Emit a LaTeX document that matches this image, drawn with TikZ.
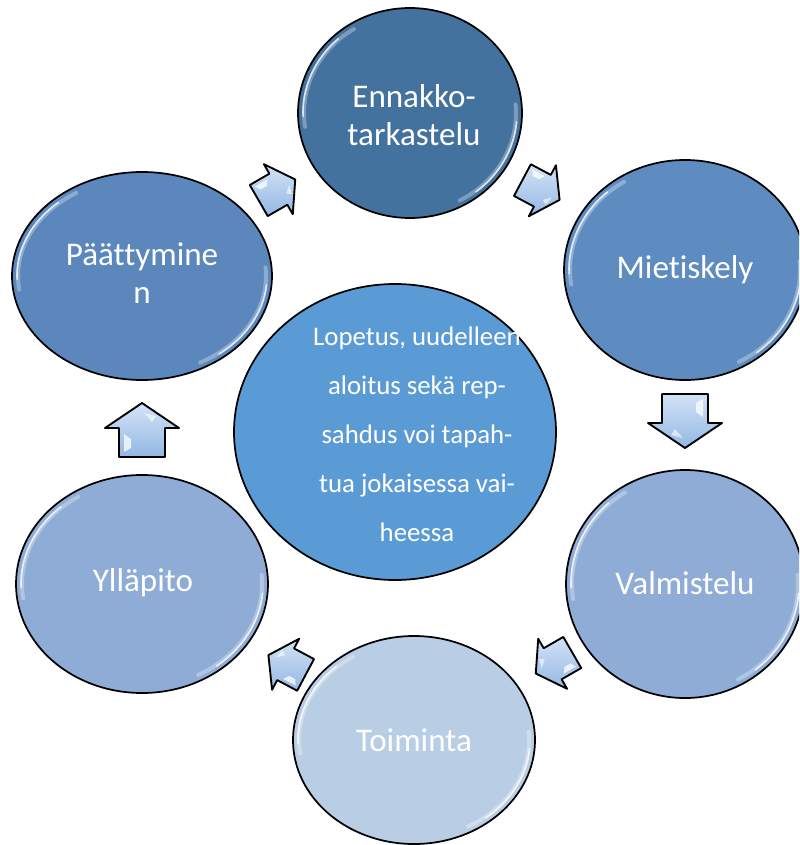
\documentclass[tikz,border=0pt]{standalone}
\usepackage{fontspec}
\setmainfont{Carlito}[Ligatures={NoCommon},RawFeature={-liga;-dlig}]
\usetikzlibrary{shapes.geometric,calc}
\definecolor{cE}{HTML}{44729F}
\definecolor{cM}{HTML}{5E8BC0}
\definecolor{cP}{HTML}{5B87BD}
\definecolor{cV}{HTML}{8FACD6}
\definecolor{cY}{HTML}{8FACD6}
\definecolor{cT}{HTML}{B9CDE5}
\definecolor{cC}{HTML}{5B9BD5}
\definecolor{arrTop}{HTML}{D3E3F6}
\definecolor{arrBot}{HTML}{93B7E3}
\newcommand\glassrim[3]{%
  \draw[white,line width=3pt,opacity=0.3,line cap=round] (#1.center) ++(172:#2-6 and #3-6) arc[start angle=172,end angle=238,x radius=#2-6,y radius=#3-6];
  \draw[white,line width=1.2pt,opacity=0.75,line cap=round] (#1.center) ++(178:#2-5 and #3-5) arc[start angle=178,end angle=228,x radius=#2-5,y radius=#3-5];
  \draw[white,line width=3pt,opacity=0.3,line cap=round] (#1.center) ++(-5:#2-6 and #3-6) arc[start angle=-5,end angle=62,x radius=#2-6,y radius=#3-6];
  \draw[white,line width=1.2pt,opacity=0.75,line cap=round] (#1.center) ++(5:#2-5 and #3-5) arc[start angle=5,end angle=52,x radius=#2-5,y radius=#3-5];
}
\tikzset{
  stage/.style={ellipse,draw=black,line width=1.3pt,inner sep=0pt,outer sep=0pt},
  stagetext/.style={text=white,align=center,font=\fontsize{24.8}{29}\selectfont},
  arrline/.style={draw=black,line width=1.4pt,line join=round,top color=arrTop,bottom color=arrBot},
  blockarrow/.pic={
    \path[arrline] (-27,-23) -- (2,-23) -- (2,-37) -- (27,0) -- (2,37) -- (2,23) -- (-27,23) -- cycle;
    \fill[white,opacity=0.75] (-22,-18) -- (-4,-18) -- (-9,-11) -- (-18,-11) -- cycle;
    \fill[white,opacity=0.6] (8,10) -- (17,2) -- (14,14) -- cycle;
  }
}
\begin{document}
\begin{tikzpicture}[x=0.75pt,y=-0.75pt]
\useasboundingbox (0,0) rectangle (799,845);
\clip (0,0) rectangle (799,845);
% outer stages
\node[stage,fill=cE,minimum width=168pt,minimum height=157.5pt] (E) at (410,113) {};
\node[stage,fill=cM,minimum width=181.5pt,minimum height=165pt] (M) at (685,270) {};
\node[stage,fill=cV,minimum width=178.5pt,minimum height=171pt] (V) at (685,584) {};
\node[stage,fill=cT,minimum width=181.5pt,minimum height=156pt] (T) at (414,740) {};
\node[stage,fill=cY,minimum width=189pt,minimum height=163.5pt] (Y) at (142,584) {};
\node[stage,fill=cP,minimum width=195pt,minimum height=156pt] (P) at (142,276) {};
\glassrim{E}{112}{105}
\glassrim{M}{121}{110}
\glassrim{V}{119}{114}
\glassrim{T}{121}{104}
\glassrim{Y}{126}{109}
\glassrim{P}{130}{104}
% texts
\node[stagetext] (Et) at (414,115) {Ennakko-\\tarkastelu};
\node[stagetext] (Mt) at (685,270) {Mietiskely};
\node[stagetext] (Vt) at (685,583) {Valmistelu};
\node[stagetext] (Tt) at (414,740) {Toiminta};
\node[stagetext] (Yt) at (143,583) {Ylläpito};
\node[stagetext] (Pt) at (142,273) {Päättymine\\n};
% center
\node[stage,fill=cC,minimum width=241.5pt,minimum height=222pt] (C) at (395,432) {};
\node[text=white,align=center,font=\fontsize{20.1}{36.75}\selectfont] (Ct) at (417,434)
  {Lopetus, uudelleen\\aloitus sekä rep-\\sahdus voi tapah-\\tua jokaisessa vai-\\heessa};
% block arrows
\pic[rotate=30,scale=0.78] at (277,190) {blockarrow};
\pic[rotate=-28,scale=0.78] at (541,190) {blockarrow};
\pic[rotate=-90] at (685,421) {blockarrow};
\pic[rotate=-150,scale=0.78] at (554,663) {blockarrow};
\pic[rotate=152,scale=0.78] at (287,665) {blockarrow};
\pic[rotate=90] at (142,430) {blockarrow};
\end{tikzpicture}
\end{document}
